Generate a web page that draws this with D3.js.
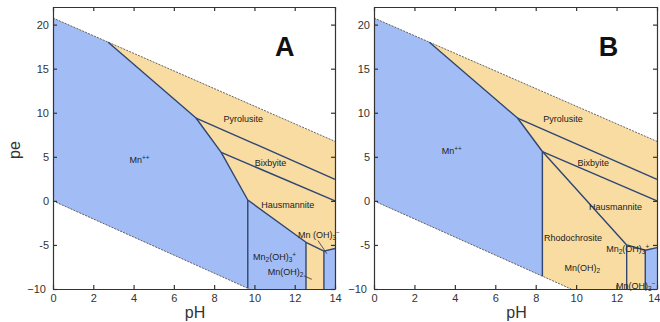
<!DOCTYPE html>
<html><head><meta charset="utf-8">
<script src="https://cdn.jsdelivr.net/npm/d3@7"></script>
<style>body{margin:0;background:#fff}svg{display:block;font-family:"Liberation Sans",Arial,sans-serif}</style>
</head><body><svg id="c" width="660" height="322"></svg>
<script>
// ---- data (pH, pe) ----
const xTicks = [0,2,4,6,8,10,12,14];
const yTicks = [-10,-5,0,5,10,15,20];
const waterUpper = [[0,20.75],[14,6.75]];
const waterLower = [[0,0],[9.75,-10]];
const stability = [[0,20.75],[14,6.75],[14,-10],[9.75,-10],[0,0]];

// Panel A
const aBlue = [
  [[0,20.75],[2.74,18.0],[7.1,9.4],[8.35,5.5],[9.67,0.1],[9.67,-9.92],[0,0]],
  [[9.67,0.1],[12.56,-4.7],[12.56,-10],[9.75,-10],[9.67,-9.92]],
  [[13.45,-5.7],[14,-5.4],[14,-10],[13.45,-10]]
];
const aLines = [
  [[2.74,18.0],[7.1,9.4],[8.35,5.5],[9.67,0.1],[12.56,-4.7],[13.45,-5.7],[14,-5.4]],
  [[7.1,9.4],[14,2.45]],
  [[8.35,5.5],[14,0.0]],
  [[9.67,0.1],[9.67,-9.92]],
  [[12.56,-4.7],[12.56,-10]],
  [[13.45,-5.7],[13.45,-10]]
];
const aLabels = [
  {t:[["Pyrolusite",""]], ph:9.45, pe:9.3},
  {t:[["Mn",""],["++","sup"]], ph:4.3, pe:4.6},
  {t:[["Bixbyite",""]], ph:10.8, pe:4.3},
  {t:[["Hausmannite",""]], ph:11.65, pe:-0.5},
  {t:[["Mn (OH)",""],["3","sub"],["−","sup"]], ph:13.2, pe:-3.8},
  {t:[["Mn",""],["2","sub"],["(OH)",""],["3","sub"],["+","sup"]], ph:11.0, pe:-6.3},
  {t:[["Mn(OH)",""],["2","sub"]], ph:11.55, pe:-8.0}
];
const aLeaders = [
  [[13.15,-4.5],[13.6,-6.0]],
  [[12.45,-8.5],[12.85,-8.9]]
];

// Panel B
const bBlue = [
  [[0,20.75],[2.74,18.0],[7.1,9.4],[8.33,5.6],[8.33,-8.54],[0,0]],
  [[13.42,-5.6],[14,-5.3],[14,-10],[13.42,-10]]
];
const bLines = [
  [[2.74,18.0],[7.1,9.4],[8.33,5.6],[8.33,-8.54]],
  [[7.1,9.4],[14,2.45]],
  [[8.33,5.6],[14,0.0]],
  [[8.33,5.6],[12.5,-5.0],[13.42,-5.6],[14,-5.3]],
  [[12.5,-5.0],[12.5,-10]],
  [[13.42,-5.6],[13.42,-10]]
];
const bLabels = [
  {t:[["Pyrolusite",""]], ph:9.35, pe:9.3},
  {t:[["Mn",""],["++","sup"]], ph:3.85, pe:5.7},
  {t:[["Bixbyite",""]], ph:10.85, pe:4.3},
  {t:[["Hausmannite",""]], ph:11.95, pe:-0.7},
  {t:[["Rhodochrosite",""]], ph:9.85, pe:-4.2},
  {t:[["Mn(OH)",""],["2","sub"]], ph:10.3, pe:-7.6},
  {t:[["Mn",""],["2","sub"],["(OH)",""],["3","sub"],["+","sup"]], ph:12.55, pe:-5.5},
  {t:[["Mn(OH)",""],["3","sub"],["−","sup"]], ph:12.95, pe:-9.6}
];

const panels = [
  {name:"A", x0:53, x1:335, blue:aBlue, lines:aLines, labels:aLabels, leaders:aLeaders, letterPh:11.5},
  {name:"B", x0:374, x1:657, blue:bBlue, lines:bLines, labels:bLabels, leaders:[], letterPh:11.6}
];

const svg = d3.select("#c");
const TAN = "#f8dca2", BLUE = "#a2bdf6", LINE = "#2f4673", AX = "#333";
const y = d3.scaleLinear().domain([-10,22]).range([289,7]);

panels.forEach((p, pi) => {
  const x = d3.scaleLinear().domain([0,14]).range([p.x0,p.x1]);
  const g = svg.append("g");
  const line = d3.line().x(d=>x(d[0])).y(d=>y(d[1]));
  const poly = d => line(d) + "Z";
  g.append("path").attr("d", poly(stability)).attr("fill", TAN);
  p.blue.forEach(b => g.append("path").attr("d", poly(b)).attr("fill", BLUE));
  [waterUpper, waterLower].forEach(w => g.append("path").attr("d", line(w))
    .attr("fill","none").attr("stroke","#555").attr("stroke-width",0.9).attr("stroke-dasharray","2,1.2"));
  p.lines.forEach(l => g.append("path").attr("d", line(l)).attr("fill","none")
    .attr("stroke", LINE).attr("stroke-width",1.4).attr("stroke-linejoin","round"));
  p.leaders.forEach(l => g.append("path").attr("d", line(l)).attr("fill","none")
    .attr("stroke", "#333").attr("stroke-width",0.8));

  p.labels.forEach(L => {
    const t = g.append("text").attr("x", x(L.ph)).attr("y", y(L.pe)).attr("text-anchor","middle")
      .attr("dy","0.35em").attr("font-size",9).attr("fill","#222");
    L.t.forEach(([s,k]) => {
      const ts = t.append("tspan").text(s);
      if (k==="sub") ts.attr("font-size",6.5).attr("baseline-shift","-25%");
      if (k==="sup") ts.attr("font-size",6.5).attr("baseline-shift","45%");
    });
  });

  g.append("text").attr("x", x(p.letterPh)).attr("y", y(16.4)).attr("text-anchor","middle")
    .attr("font-size",27).attr("font-weight","bold").attr("fill","#111").text(p.name);

  // axes
  const bottom = d3.axisBottom(x).tickValues(xTicks).tickSizeInner(-4).tickSizeOuter(0).tickPadding(5);
  const top = d3.axisTop(x).tickValues(xTicks).tickSizeInner(-4).tickSizeOuter(0).tickFormat("");
  const left = d3.axisLeft(y).tickValues(yTicks).tickSizeInner(-4).tickSizeOuter(0).tickPadding(4)
    .tickFormat(d => d===-10 ? "−10" : d);
  const right = d3.axisRight(y).tickValues(yTicks).tickSizeInner(-4).tickSizeOuter(0).tickFormat("");
  const gb = g.append("g").attr("transform","translate(0,289)").call(bottom);
  const gt = g.append("g").attr("transform","translate(0,7)").call(top);
  const gl = g.append("g").attr("transform",`translate(${p.x0},0)`).call(left);
  const gr = g.append("g").attr("transform",`translate(${p.x1},0)`).call(right);
  [gb,gt,gl,gr].forEach(a => {
    a.select(".domain").attr("stroke", AX).attr("stroke-width",1.2);
    a.selectAll(".tick line").attr("stroke", AX).attr("stroke-width",1.2);
    a.selectAll("text").attr("font-size",11).attr("fill","#333").attr("font-family","Liberation Sans, Arial, sans-serif");
  });
  gl.selectAll(".tick").filter(d=>d===-10).select("text").attr("dx",-3);
  if (pi === 1) gb.selectAll(".tick").filter(d=>d===14).select("text").attr("text-anchor","end").attr("dx",3);

  g.append("text").attr("x", (p.x0+p.x1)/2 + 1).attr("y", 318).attr("text-anchor","middle")
    .attr("font-size",16).attr("fill","#333").text("pH");
});
svg.append("text").attr("transform","translate(20,150) rotate(-90)").attr("text-anchor","middle")
  .attr("font-size",16).attr("fill","#333").text("pe");
</script></body></html>
